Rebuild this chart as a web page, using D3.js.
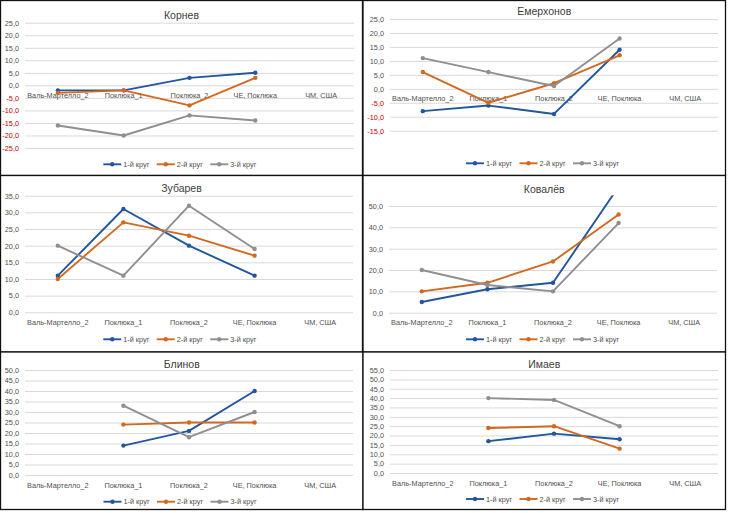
<!DOCTYPE html>
<html>
<head>
<meta charset="utf-8">
<script src="https://cdn.jsdelivr.net/npm/d3@7"></script>
<style>
	body { margin: 0; background: white; }
	#outer { width: 730px; height: 513px; }
	text { font-family: 'Liberation Sans', Arial, sans-serif; }
</style>
</head>
<body>
<div id="outer"></div>
<script>

////////// DATA //////////
const categories = ['Валь-Мартелло_2', 'Поклюка_1', 'Поклюка_2', 'ЧЕ, Поклюка', 'ЧМ, США'];
const seriesNames = ['1-й круг', '2-й круг', '3-й круг'];

const kornev1 = [-2, -2, 3, 5, null];
const kornev2 = [-3, -2, -8, 3, null];
const kornev3 = [-16, -20, -12, -14, null];

const emerkhonov1 = [-8, -6, -9, 14, null];
const emerkhonov2 = [6, -5, 2, 12, null];
const emerkhonov3 = [11, 6, 1, 18, null];

const zubarev1 = [11, 31, 20, 11, null];
const zubarev2 = [10, 27, 23, 17, null];
const zubarev3 = [20, 11, 32, 19, null];

const kovalev1 = [5, 11, 14, 59, null];
const kovalev2 = [10, 14, 24, 46, null];
const kovalev3 = [20, 13, 10, 42, null];

const blinov1 = [null, 14, 21, 40, null];
const blinov2 = [null, 24, 25, 25, null];
const blinov3 = [null, 33, 18, 30, null];

const imaev1 = [null, 17, 21, 18, null];
const imaev2 = [null, 24, 25, 13, null];
const imaev3 = [null, 40, 39, 25, null];


////////// STYLE //////////
const colors = ['#22569e', '#d2691f', '#8f8f8f'];
const textColor = '#505050';
const negColor = '#c00000';
const gridColor = '#d9d9d9';
const smallFont = 7.3;

// one entry per chart box: frame, plot area, axis
const panels = [
	{ title: 'Корнев', series: [kornev1, kornev2, kornev3],
		box: [0.5, 0.5, 362.5, 175.5], plot: [25, 354, 22.7, 148], domain: [-25, 25], step: 5,
		titleY: 15, catY: 95.7, legendY: 164.3 },
	{ title: 'Емерхонов', series: [emerkhonov1, emerkhonov2, emerkhonov3],
		box: [363, 0.5, 725.5, 175.5], plot: [390, 718, 19, 130.7], domain: [-15, 25], step: 5,
		titleY: 11, catY: 98.7, legendY: 163.3 },
	{ title: 'Зубарев', series: [zubarev1, zubarev2, zubarev3],
		box: [0.5, 175.5, 362.5, 352], plot: [25, 353, 195.7, 312.3], domain: [0, 35], step: 5,
		titleY: 188.3, catY: 322.3, legendY: 339.3 },
	{ title: 'Ковалёв', series: [kovalev1, kovalev2, kovalev3],
		box: [363, 175.5, 725.5, 352], plot: [389, 717, 195.3, 312.7], domain: [0, 55], step: 10,
		titleY: 189, catY: 322.3, legendY: 339.3 },
	{ title: 'Блинов', series: [blinov1, blinov2, blinov3],
		box: [0.5, 352, 363, 509.5], plot: [25, 353, 370, 475], domain: [0, 50], step: 5,
		titleY: 364, catY: 485, legendY: 501.7 },
	{ title: 'Имаев', series: [imaev1, imaev2, imaev3],
		box: [363, 352, 725.5, 509.5], plot: [390, 718, 370, 473], domain: [0, 55], step: 5,
		titleY: 364, catY: 483.3, legendY: 499 }
];


////////// RENDER //////////
const svg = d3.select('#outer').append('svg')
	.attr('width', 730)
	.attr('height', 513);

const fmt = v => d3.format('.1f')(v).replace('.', ',').replace('−', '-');

panels.forEach((p, pi) => {
	const g = svg.append('g').attr('class', 'panel');
	const [bx0, by0, bx1, by1] = p.box;
	const [px0, px1, py0, py1] = p.plot;
	const cx = (bx0 + bx1) / 2;

	// FRAME //
	g.append('rect')
		.attr('x', bx0).attr('y', by0)
		.attr('width', bx1 - bx0).attr('height', by1 - by0)
		.attr('fill', 'white')
		.attr('stroke', '#111')
		.attr('stroke-width', 1.3);

	// SCALES //
	const x = d3.scalePoint().domain(categories).range([px0, px1]).padding(0.5);
	const y = d3.scaleLinear().domain(p.domain).range([py1, py0]);
	// Ковалёв: axis max 55 but labels stop at 50
	const ticks = d3.range(p.domain[0], p.domain[1] + 0.001, p.step)
		.filter(t => p.title !== 'Ковалёв' || t <= 50);

	// GRID + Y LABELS //
	const yAxis = d3.axisLeft(y).tickValues(ticks).tickSize(-(px1 - px0)).tickFormat(fmt);
	const ya = g.append('g')
		.attr('transform', `translate(${px0},0)`)
		.call(yAxis);
	ya.select('.domain').remove();
	ya.selectAll('.tick line').attr('stroke', gridColor).attr('stroke-width', 1);
	ya.selectAll('.tick text')
		.attr('x', -6)
		.attr('font-size', smallFont)
		.attr('font-family', "'Liberation Sans', Arial, sans-serif")
		.attr('fill', d => d < 0 ? negColor : textColor);

	// CATEGORY LABELS //
	g.append('g').selectAll('text')
		.data(categories)
		.join('text')
		.attr('x', d => x(d))
		.attr('y', p.catY)
		.attr('dy', '0.35em')
		.attr('text-anchor', 'middle')
		.attr('font-size', smallFont)
		.attr('fill', textColor)
		.text(d => d);

	// TITLE //
	g.append('text')
		.attr('x', cx)
		.attr('y', p.titleY)
		.attr('dy', '0.35em')
		.attr('text-anchor', 'middle')
		.attr('font-size', 10.5)
		.attr('fill', '#404040')
		.text(p.title);

	// SERIES //
	const clipId = 'clip' + pi;
	g.append('clipPath').attr('id', clipId)
		.append('rect')
		.attr('x', bx0).attr('y', py0)
		.attr('width', bx1 - bx0).attr('height', by1 - py0);

	const line = d3.line()
		.defined(d => d.v !== null)
		.x(d => x(d.c))
		.y(d => y(d.v));

	const seriesG = g.append('g').attr('clip-path', `url(#${clipId})`);
	p.series.forEach((vals, si) => {
		const pts = vals.map((v, i) => ({ c: categories[i], v: v }));
		seriesG.append('path')
			.attr('d', line(pts))
			.attr('fill', 'none')
			.attr('stroke', colors[si])
			.attr('stroke-width', 1.9)
			.attr('stroke-linejoin', 'round');
		seriesG.selectAll(null)
			.data(pts.filter(d => d.v !== null && d.v <= p.domain[1]))
			.join('circle')
			.attr('cx', d => x(d.c))
			.attr('cy', d => y(d.v))
			.attr('r', 2.2)
			.attr('fill', colors[si]);
	});

	// LEGEND //
	const itemW = 53.5;
	const legendX = cx - (itemW * 3 - 4) / 2;
	const lg = g.append('g').attr('transform', `translate(${legendX},${p.legendY})`);
	seriesNames.forEach((name, si) => {
		const it = lg.append('g').attr('transform', `translate(${si * itemW},0)`);
		it.append('line')
			.attr('x1', 0).attr('x2', 18)
			.attr('stroke', colors[si])
			.attr('stroke-width', 1.9);
		it.append('circle')
			.attr('cx', 9).attr('r', 2.2)
			.attr('fill', colors[si]);
		it.append('text')
			.attr('x', 20)
			.attr('dy', '0.35em')
			.attr('font-size', smallFont)
			.attr('fill', textColor)
			.text(name);
	});
});

</script>
</body>
</html>
